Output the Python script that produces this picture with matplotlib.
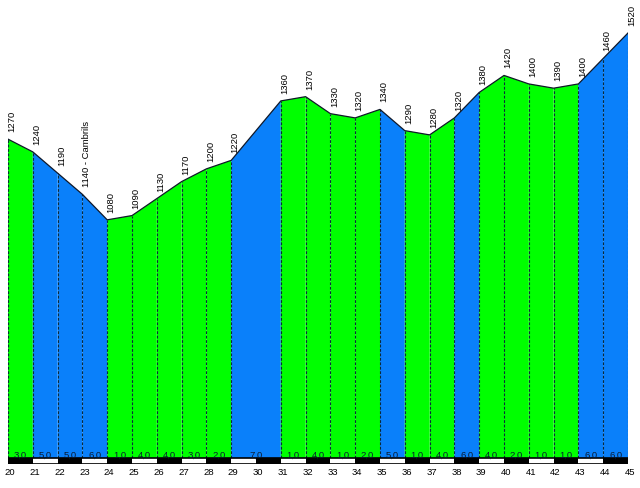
import matplotlib
matplotlib.use("Agg")
import matplotlib.pyplot as plt
from matplotlib.patches import Polygon, Rectangle

km = [20, 21, 22, 23, 24, 25, 26, 27, 28, 29, 31, 32, 33, 34, 35,
      36, 37, 38, 39, 40, 41, 42, 43, 44, 45]
elev = [1270, 1240, 1190, 1140, 1080, 1090, 1130, 1170, 1200, 1220, 1360, 1370,
        1330, 1320, 1340, 1290, 1280, 1320, 1380, 1420, 1400, 1390, 1400, 1460, 1520]
point_labels = ["1270", "1240", "1190", "1140 - Cambrils", "1080", "1090", "1130",
                "1170", "1200", "1220", "1360", "1370", "1330", "1320", "1340",
                "1290", "1280", "1320", "1380", "1420", "1400", "1390", "1400",
                "1460", "1520"]
slopes = [3.0, 5.0, 5.0, 6.0, 1.0, 4.0, 4.0, 3.0, 2.0, 7.0, 1.0, 4.0, 1.0, 2.0,
          5.0, 1.0, 4.0, 6.0, 4.0, 2.0, 1.0, 1.0, 6.0, 6.0]
tick_km = list(range(20, 46))

GREEN = "#00ff00"
BLUE = "#0a80fa"
BASE = 519
YMIN, YMAX = 505, 1600

fig = plt.figure(figsize=(6.4, 4.89), dpi=100)
ax = fig.add_axes([8 / 640, (489 - 465) / 489, 620 / 640, 465 / 489])
ax.set_xlim(20, 45)
ax.set_ylim(YMIN, YMAX)
ax.axis("off")

for i in range(len(km) - 1):
    x0, x1 = km[i], km[i + 1]
    y0, y1 = elev[i], elev[i + 1]
    col = BLUE if slopes[i] >= 5 else GREEN
    ax.add_patch(Polygon([(x0, BASE), (x0, y0), (x1, y1), (x1, BASE)],
                         closed=True, facecolor=col, edgecolor="none", zorder=1))
    ax.text((x0 + x1) / 2, BASE + 9.5, f"{slopes[i]:.1f}".replace(".", ","),
            ha="center", va="center", fontsize=6.8, family="Liberation Sans",
            color="#0a1a30", zorder=4)

# profile outline
ax.plot(km, elev, color="#101828", lw=0.9, zorder=3)

# dashed vertical lines
for x, y in zip(km, elev):
    ax.plot([x, x], [BASE, y], color="#0a2a3a", lw=0.8,
            dashes=(2.5, 1.5), zorder=2)

# elevation labels
for x, y, lab in zip(km, elev, point_labels):
    ax.annotate(lab, (x, y), xytext=(4, 8), textcoords="offset pixels",
                rotation=90, ha="center", va="bottom", fontsize=6.8,
                family="Liberation Sans", color="black", zorder=5,
                annotation_clip=False)

# km scale bar
for i in range(len(tick_km) - 1):
    col = "black" if i % 2 == 0 else "white"
    ax.add_patch(Rectangle((tick_km[i], YMIN), 1, BASE - YMIN, facecolor=col,
                           edgecolor="none", zorder=2))
ax.add_patch(Rectangle((20, YMIN), 25, BASE - YMIN, facecolor="none",
                       edgecolor="black", lw=1.2, zorder=3))

for t in tick_km:
    ax.annotate(str(t), (t, YMIN), xytext=(2, -8), textcoords="offset pixels",
                ha="center", va="center", fontsize=6.8,
                family="Liberation Sans", color="black", annotation_clip=False)

fig.savefig("out.png", dpi=100)
